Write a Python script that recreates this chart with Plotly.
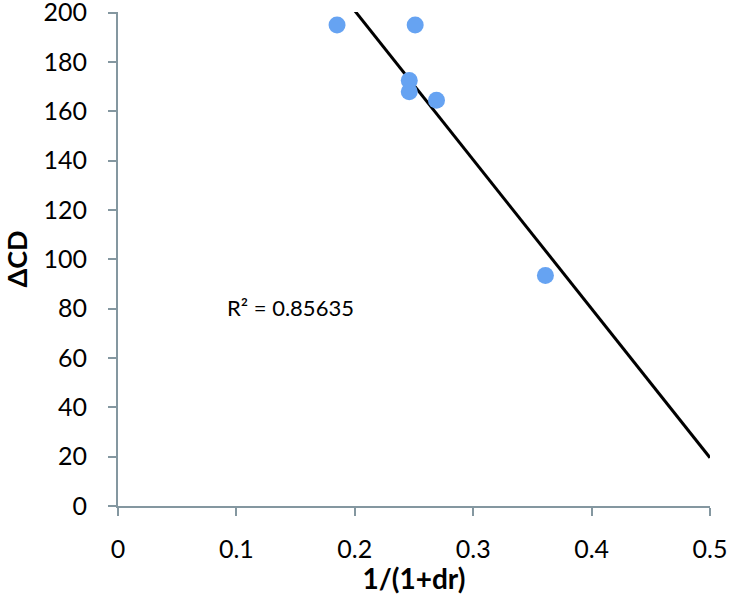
import numpy as np
import plotly.graph_objects as go

x_vals = [0.185, 0.251, 0.246, 0.246, 0.269, 0.361]
y_vals = [195.0, 195.0, 172.5, 168.0, 164.5, 93.5]
x_ticks = [0, 0.1, 0.2, 0.3, 0.4, 0.5]
x_tick_text = ["0", "0.1", "0.2", "0.3", "0.4", "0.5"]
y_ticks = [0, 20, 40, 60, 80, 100, 120, 140, 160, 180, 200]
r2_label = "R² = 0.85635"
x_title = "1/(1+dr)"
y_title = "ΔCD"

slope, intercept = np.polyfit(x_vals, y_vals, 1)
line_x = [min(x_vals), 0.5]
line_y = [slope * v + intercept for v in line_x]

axis_color = "#8497A0"
font_fam = "Lato, Open Sans, sans-serif"

fig = go.Figure()
fig.add_trace(go.Scatter(x=line_x, y=line_y, mode="lines",
                         line=dict(color="black", width=3), showlegend=False))
fig.add_trace(go.Scatter(x=x_vals, y=y_vals, mode="markers",
                         marker=dict(color="#66A3F2", size=17), showlegend=False))

fig.add_annotation(x=0.146, y=80.5, text=r2_label, showarrow=False,
                   font=dict(size=22, color="black", family=font_fam))

fig.update_layout(
    width=732, height=595,
    margin=dict(l=118, r=22, t=12, b=89),
    plot_bgcolor="white", paper_bgcolor="white",
    font=dict(family=font_fam, size=24, color="black"),
)
fig.update_xaxes(range=[0, 0.5], tickvals=x_ticks, ticktext=x_tick_text,
                 showgrid=False, zeroline=False, automargin=False,
                 showline=True, linecolor=axis_color, linewidth=2,
                 ticks="outside", tickcolor=axis_color, ticklen=8, tickwidth=2,
                 tickfont=dict(size=25), ticklabelstandoff=12, ticklabeloverflow="allow",
                 title=dict(text="<b>" + x_title + "</b>", font=dict(size=28), standoff=2))
fig.update_yaxes(range=[0, 200.3], tickvals=y_ticks,
                 showgrid=False, zeroline=False, automargin=False,
                 showline=True, linecolor=axis_color, linewidth=2,
                 ticks="outside", tickcolor=axis_color, ticklen=8, tickwidth=2,
                 tickfont=dict(size=25), ticklabelstandoff=16, ticklabeloverflow="allow",
                 title=dict(text="<b>" + y_title + "</b>", font=dict(size=27), standoff=22))

fig.write_html("out.html", config={"displayModeBar": False},
               post_script="document.body.style.margin='0';")
